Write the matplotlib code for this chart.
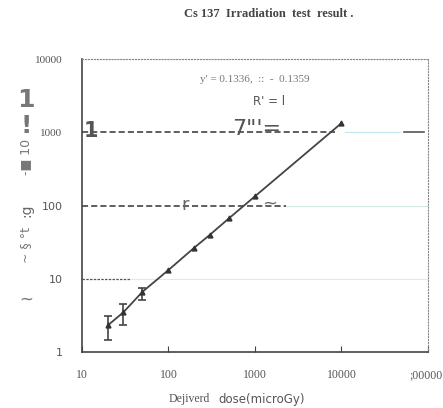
import matplotlib
matplotlib.use("Agg")
import matplotlib.pyplot as plt
import matplotlib.transforms as mtransforms
from matplotlib.ticker import FixedLocator, NullLocator

dose = [20, 30, 50, 100, 200, 300, 500, 1000, 10000]
measured = [2.33, 3.48, 6.65, 13.2, 26.8, 39.8, 67.0, 134, 1336]
err_low = [0.87, 1.14, 1.55, 0, 0, 0, 0, 0, 0]
err_high = [0.77, 1.02, 0.75, 0, 0, 0, 0, 0, 0]
xtick_vals = [10, 100, 1000, 10000, 100000]
xtick_labels = ["10", "100", "1000", "10000", ";00000"]
ytick_vals = [1, 10, 100, 1000, 10000]
ytick_labels = ["1", "10", "100", "1000", "10000"]

fig = plt.figure(figsize=(4.43, 4.08), dpi=100)
ax = fig.add_axes([0.185, 0.137, 0.781, 0.718])
ax.set_xscale("log")
ax.set_yscale("log")
ax.set_xlim(10, 100000)
ax.set_ylim(1, 10000)

# gridlines (partly faded in the scan)
ax.axhline(1000, xmin=0.0, xmax=0.73, color="#333333", lw=1.1, ls=(0, (4, 2)), zorder=1)
ax.axhline(1000, xmin=0.76, xmax=0.92, color="#bfe6ee", lw=0.8, zorder=1)
ax.axhline(1000, xmin=0.93, xmax=0.99, color="#555555", lw=1.2, zorder=1)
ax.axhline(100, xmin=0.0, xmax=0.59, color="#333333", lw=1.1, ls=(0, (4, 2)), zorder=1)
ax.axhline(100, xmin=0.59, xmax=1.0, color="#cfe8e0", lw=0.8, zorder=1)
ax.axhline(10, xmin=0.0, xmax=0.14, color="#555555", lw=0.9, ls=(0, (2, 1)), zorder=1)
ax.axhline(10, xmin=0.14, xmax=1.0, color="#e6ecc8", lw=0.8, zorder=1)
ax.axhline(10000, color="#888888", lw=0.8, ls=":", zorder=1)

ax.plot(dose, measured, color="#444444", lw=1.3, zorder=3)
ax.plot(dose, measured, ls="none", marker="^", ms=3.5, color="#333333", zorder=4)
el = [err_low[i] for i in range(3)]
eh = [err_high[i] for i in range(3)]
ax.errorbar(dose[:3], measured[:3], yerr=[el, eh], fmt="none", ecolor="#444444",
            elinewidth=1.2, capsize=3, capthick=1.2, zorder=3)

for s in ["top", "right"]:
    ax.spines[s].set_linestyle(":")
    ax.spines[s].set_color("#888888")
    ax.spines[s].set_linewidth(0.8)
for s in ["left", "bottom"]:
    ax.spines[s].set_color("#444444")
    ax.spines[s].set_linewidth(1.2)

ax.xaxis.set_major_locator(FixedLocator(xtick_vals))
ax.xaxis.set_minor_locator(NullLocator())
ax.yaxis.set_major_locator(FixedLocator(ytick_vals))
ax.yaxis.set_minor_locator(NullLocator())
ax.set_xticklabels(xtick_labels, family="Liberation Serif", fontsize=8.5, color="#555555")
ax.set_yticklabels(ytick_labels, fontsize=8, color="#555555")
for lab in ax.get_yticklabels()[3:]:
    lab.set_family("Liberation Serif")
ax.tick_params(axis="x", direction="in", length=4, pad=12, color="#444444")
ax.tick_params(axis="y", length=0, pad=14)
last = ax.get_xticklabels()[-1]
last.set_horizontalalignment("right")
last.set_transform(last.get_transform() + mtransforms.ScaledTranslation(15 / 100, 0, fig.dpi_scale_trans))

ax.text(0.5, 0.93, "y' = 0.1336,  ::  -  0.1359", transform=ax.transAxes, ha="center",
        va="center", fontsize=8, family="Liberation Serif", color="#777777")
ax.text(0.54, 0.855, "R' = l", transform=ax.transAxes, ha="center", va="center",
        fontsize=8.5, color="#555555")

# scanned artefact text on gridlines
fig.text(84 / 443, 1 - 131 / 408, "1", fontsize=15, fontweight="bold", color="#555555", va="center")
fig.text(232 / 443, 1 - 129 / 408, "7\"'=", fontsize=16, color="#555555", va="center")
fig.text(181 / 443, 1 - 205 / 408, "r", fontsize=13, color="#666666", va="center")
fig.text(262 / 443, 1 - 204 / 408, "~", fontsize=13, color="#666666", va="center")

fig.text(269 / 443, 1 - 14 / 408, "Cs 137  Irradiation  test  result .", ha="center", va="center",
         fontsize=9, family="Liberation Serif", fontweight="bold", color="#444444")
fig.text(210 / 443, 1 - 399 / 408, "Dejiverd", ha="right", va="center", fontsize=8.5,
         family="Liberation Serif", color="#555555")
fig.text(218 / 443, 1 - 399 / 408, "dose(microGy)", ha="left", va="center", fontsize=8.5,
         color="#555555")

# garbled y-axis label
fig.text(26 / 443, 1 - 100 / 408, "1", ha="center", va="center", fontsize=18, fontweight="bold", color="#777777")
fig.text(26 / 443, 1 - 126 / 408, "!", ha="center", va="center", fontsize=18, fontweight="bold", color="#777777")
fig.text(26 / 443, 1 - 157 / 408, "-\u25a0 10", ha="center", va="center", fontsize=9, rotation=90, color="#777777")
fig.text(26 / 443, 1 - 210 / 408, ":g", ha="center", va="center", fontsize=10, rotation=90, color="#666666")
fig.text(26 / 443, 1 - 245 / 408, "~ \u00a7 \u00b0t", ha="center", va="center", fontsize=9, rotation=90, color="#777777")
fig.text(26 / 443, 1 - 300 / 408, "~", ha="center", va="center", fontsize=12, color="#777777")

fig.savefig("out.png", dpi=100)
